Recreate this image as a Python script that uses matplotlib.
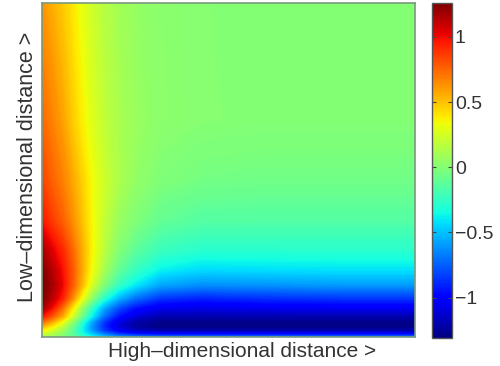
import matplotlib
matplotlib.use('Agg')
import matplotlib.pyplot as plt
import matplotlib.colors as mcolors
import matplotlib.cm as cm
import numpy as np

# Sample positions (0 = left/bottom edge, 1 = right/top edge)
high_dist = [0.0, 0.027, 0.054, 0.080, 0.107, 0.134, 0.166, 0.204, 0.249, 0.316, 0.424, 0.584, 0.799, 1.0]
low_dist = [0.0, 0.009, 0.018, 0.030, 0.045, 0.063, 0.087, 0.117, 0.156, 0.201, 0.260, 0.350, 0.470, 0.650, 0.829, 1.0]

# Gradient values, one row per low-dimensional distance (bottom row first)
gradient = [
    [0.12, 0.06, 0.00, -0.10, -0.22, -0.35, -0.49, -0.60, -0.67, -0.70, -0.70, -0.70, -0.70, -0.70],
    [0.22, 0.13, 0.02, -0.12, -0.31, -0.50, -0.69, -0.85, -0.95, -1.00, -1.00, -1.00, -1.00, -1.00],
    [0.35, 0.22, 0.08, -0.11, -0.35, -0.59, -0.83, -1.02, -1.14, -1.20, -1.20, -1.20, -1.20, -1.20],
    [0.52, 0.36, 0.17, -0.06, -0.34, -0.62, -0.88, -1.10, -1.23, -1.30, -1.30, -1.30, -1.30, -1.30],
    [0.74, 0.56, 0.34, 0.06, -0.26, -0.57, -0.85, -1.08, -1.22, -1.28, -1.28, -1.28, -1.28, -1.28],
    [0.98, 0.80, 0.58, 0.27, -0.06, -0.38, -0.70, -0.94, -1.10, -1.20, -1.20, -1.20, -1.20, -1.20],
    [1.18, 0.99, 0.74, 0.42, 0.07, -0.26, -0.56, -0.79, -0.95, -1.06, -1.08, -1.06, -1.05, -1.05],
    [1.26, 1.12, 0.95, 0.67, 0.34, 0.03, -0.28, -0.52, -0.70, -0.85, -0.90, -0.87, -0.85, -0.85],
    [1.29, 1.17, 1.02, 0.80, 0.53, 0.25, -0.01, -0.24, -0.40, -0.57, -0.63, -0.62, -0.60, -0.60],
    [1.25, 1.13, 0.99, 0.80, 0.57, 0.33, 0.11, -0.10, -0.24, -0.38, -0.44, -0.43, -0.42, -0.42],
    [1.16, 1.04, 0.92, 0.76, 0.56, 0.36, 0.17, 0.00, -0.12, -0.23, -0.285, -0.285, -0.28, -0.28],
    [0.97, 0.86, 0.77, 0.65, 0.50, 0.35, 0.20, 0.07, -0.01, -0.10, -0.145, -0.15, -0.15, -0.15],
    [0.85, 0.76, 0.68, 0.58, 0.46, 0.34, 0.23, 0.13, 0.05, -0.015, -0.05, -0.06, -0.06, -0.06],
    [0.75, 0.67, 0.59, 0.48, 0.375, 0.28, 0.19, 0.12, 0.07, 0.026, 0.008, 0.0, 0.0, 0.0],
    [0.68, 0.61, 0.53, 0.44, 0.34, 0.25, 0.17, 0.11, 0.06, 0.024, 0.007, 0.0, 0.0, 0.0],
    [0.62, 0.55, 0.48, 0.40, 0.31, 0.23, 0.155, 0.10, 0.056, 0.022, 0.006, 0.0, 0.0, 0.0],
]

cbar_ticks = [-1, -0.5, 0, 0.5, 1]
cbar_labels = ['\u22121', '\u22120.5', '0', '0.5', '1']
vmin, vmax = -1.31, 1.26

plt.rcParams['font.family'] = ['Liberation Sans', 'DejaVu Sans']

fig = plt.figure(figsize=(5.0, 3.66), dpi=100)
ax = fig.add_axes([42 / 500, 29 / 366, 373 / 500, 334 / 366])

norm = mcolors.Normalize(vmin=vmin, vmax=vmax)
levels = np.linspace(vmin, vmax, 300)
ax.contourf(high_dist, low_dist, np.array(gradient), levels=levels,
            cmap='jet', norm=norm, extend='both', antialiased=False)

ax.set_xlim(0, 1)
ax.set_ylim(0, 1)
ax.set_xticks([])
ax.set_yticks([])
for s in ax.spines.values():
    s.set_color('#7a9a7c')
    s.set_linewidth(1.2)

ax.set_xlabel('High\u2013dimensional distance >', fontsize=15, color='#333333')
ax.xaxis.set_label_coords(0.536, -0.015)
ax.set_ylabel('Low\u2013dimensional distance >', fontsize=15.5, color='#333333')
ax.yaxis.set_label_coords(-0.011, 0.51)

# Colorbar
cax = fig.add_axes([432 / 500, 28 / 366, 20 / 500, 335 / 366])
sm = cm.ScalarMappable(norm=norm, cmap='jet')
cbar = fig.colorbar(sm, cax=cax)
cbar.set_ticks(cbar_ticks)
cbar.set_ticklabels(cbar_labels)
cax.tick_params(axis='y', direction='in', length=3, width=0.8, left=True, right=True,
                labelsize=14, labelcolor='#333333', color='#444444', pad=2)
cbar.outline.set_edgecolor('#555555')
cbar.outline.set_linewidth(1.0)

plt.savefig('out.png', dpi=100)
